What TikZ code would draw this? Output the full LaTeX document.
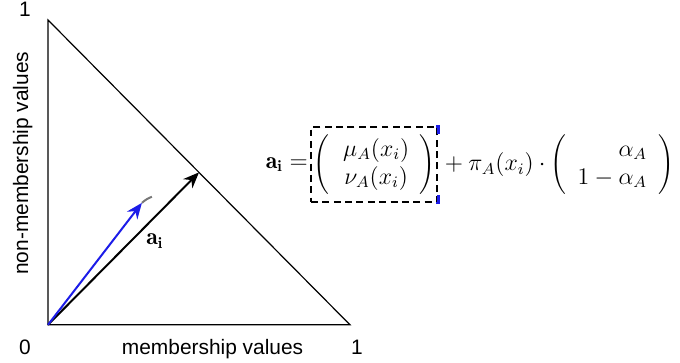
\documentclass[tikz,border=0pt]{standalone}
\usepackage{fontspec}
\setsansfont{Liberation Sans}
\usetikzlibrary{positioning, arrows.meta}
\definecolor{VecBlue}{HTML}{1C1CE8}
\definecolor{TailGray}{HTML}{777777}

\begin{document}
\begin{tikzpicture}[
  x=5.33cm, y=5.38cm,
  axis/.style={line width=0.6pt},
  vec/.style={-{Stealth[length=8pt, width=6.5pt]}, line width=1pt},
  lbl/.style={font=\sffamily\fontsize{10.5}{12}\selectfont, anchor=base, inner sep=0pt},
  eq/.style={font=\large, inner sep=0pt},
  vecbox/.style={draw, dash pattern=on 3.5pt off 2.2pt, line width=1pt,
    font=\large, minimum height=37.5pt, inner xsep=1.2pt, inner ysep=0pt},
  bluecorner/.style={VecBlue, line width=1.3pt}
]
  \useasboundingbox (-0.159,-0.1246) rectangle (2.093,1.0656);

  % triangle of admissible values
  \coordinate (o) at (0,0);
  \coordinate (xone) at (1,0);
  \coordinate (yone) at (0,1);
  \draw[axis] (yone) -- (o) -- (xone) -- cycle;

  % vectors
  \coordinate (tip) at (0.5,0.5);
  \coordinate (bluetip) at (0.311,0.4);
  \coordinate (tail) at (0.344,0.42);
  \draw[vec] (o) -- (tip);
  \draw[vec, VecBlue] (o) -- (bluetip);
  \draw[TailGray, line width=1pt] (bluetip) to[bend left=10] (tail);

  % axis labels
  \node[lbl] (top1) at (-0.076,1.01) {1};
  \node[lbl] (zero) at (-0.076,-0.098) {0};
  \node[lbl] (right1) at (1.023,-0.098) {1};
  \node[lbl] (xlab) at (0.545,-0.098) {membership values};
  \node[lbl, rotate=90] (ylab) at (-0.066,0.53) {non-membership values};
  \node[eq] (ai) at (0.354,0.275) {$\mathbf{a_i}$};

  % equation
  \node[vecbox, anchor=west] (mu) at (0.868,0.525)
    {$\left(\begin{array}{@{\hspace{7pt}}c@{\hspace{5pt}}}\mu_A(x_i)\\ \nu_A(x_i)\end{array}\right)$};
  \node[eq, left=1pt of mu] (lhs) {$\mathbf{a_i} =$};
  \node[eq, right=0.5pt of mu] (rhs)
    {${}+\pi_A(x_i)\cdot\left(\arraycolsep=5.5pt\begin{array}{r}\alpha_A\\ 1-\alpha_A\end{array}\right)$};
  \draw[bluecorner] ([yshift=-4pt]mu.north east) -- (mu.north east) -- ++(-1pt,0);
  \draw[bluecorner] ([yshift=4pt]mu.south east) -- (mu.south east) -- ++(-1pt,0);
\end{tikzpicture}
\end{document}
